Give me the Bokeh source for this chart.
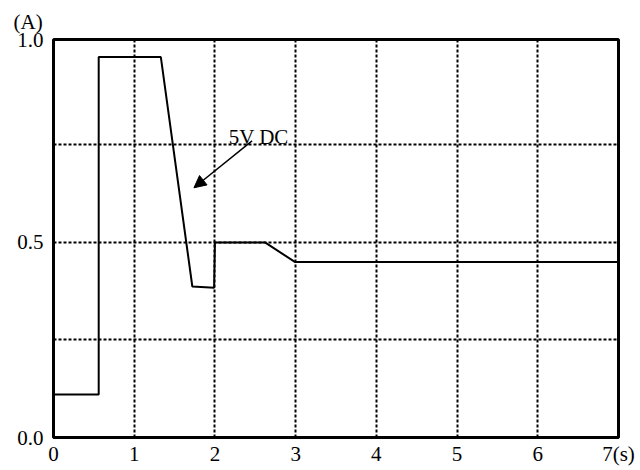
from bokeh.plotting import figure
from bokeh.models import FixedTicker, Label, Arrow, NormalHead, Range1d, Title
from bokeh.embed import file_html
from bokeh.resources import INLINE

# data
T = [0.0, 0.56, 0.56, 1.33, 1.72, 1.99, 2.0, 2.62, 2.99, 7.0]
I = [0.11, 0.11, 0.975, 0.975, 0.387, 0.384, 0.5, 0.5, 0.45, 0.45]

X_TICKS = [0, 1, 2, 3, 4, 5, 6, 7]
X_TICK_LABELS = ["0", "1", "2", "3", "4", "5", "6", "7(s)"]
Y_TICKS = [0.0, 0.5, 1.02]
Y_TICK_LABELS = ["0.0", "0.5", "1.0"]
X_GRID = [1, 2, 3, 4, 5, 6]
Y_GRID = [0.25, 0.5, 0.75]

ANNOT_TEXT = "5V DC"
ANNOT_POS = (2.17, 0.77)
ARROW_FROM = (2.46, 0.76)
ARROW_TO = (1.74, 0.64)
UNIT_Y = "(A)"

FONT = "Liberation Serif"

p = figure(width=640, height=470, x_range=Range1d(0, 7), y_range=Range1d(0, 1.02),
           output_backend="svg", toolbar_location=None,
           min_border_left=53, min_border_right=22, min_border_top=39, min_border_bottom=33)
p.title = Title(text=UNIT_Y, align="left", offset=-40, standoff=12,
                text_font=FONT, text_font_size="21px", text_font_style="normal",
                text_color="black")
p.background_fill_color = "white"
p.border_fill_color = "white"
p.outline_line_color = "black"
p.outline_line_width = 3
p.outline_line_alpha = 1.0

for ax in (p.xaxis[0], p.yaxis[0]):
    ax.axis_line_color = None
    ax.major_tick_line_color = None
    ax.minor_tick_line_color = None
    ax.major_tick_in = 0
    ax.major_tick_out = 0
    ax.major_label_text_font = FONT
    ax.major_label_text_font_size = "21px"
    ax.major_label_text_color = "black"

p.xaxis[0].ticker = FixedTicker(ticks=X_TICKS)
p.xaxis[0].major_label_overrides = {t: l for t, l in zip(X_TICKS, X_TICK_LABELS)}
p.xaxis[0].major_label_standoff = 4
p.yaxis[0].ticker = FixedTicker(ticks=Y_TICKS)
p.yaxis[0].major_label_overrides = {t: l for t, l in zip(Y_TICKS, Y_TICK_LABELS)}
p.yaxis[0].major_label_standoff = 10

p.xgrid.ticker = FixedTicker(ticks=X_GRID)
p.ygrid.ticker = FixedTicker(ticks=Y_GRID)
for g in (p.xgrid[0], p.ygrid[0]):
    g.grid_line_color = "black"
    g.grid_line_width = 2
    g.grid_line_dash = "3 2"
    g.grid_line_alpha = 1.0

p.line(T, I, line_color="black", line_width=2)

p.add_layout(Label(x=ANNOT_POS[0], y=ANNOT_POS[1], text=ANNOT_TEXT,
                   text_font=FONT, text_font_size="21px", text_color="black",
                   text_baseline="alphabetic", text_align="left"))
p.add_layout(Arrow(x_start=ARROW_FROM[0], y_start=ARROW_FROM[1],
                   x_end=ARROW_TO[0], y_end=ARROW_TO[1],
                   line_color="black", line_width=1.5,
                   end=NormalHead(size=12, fill_color="black", line_color="black")))

open("out.html", "w").write(file_html(p, INLINE))
